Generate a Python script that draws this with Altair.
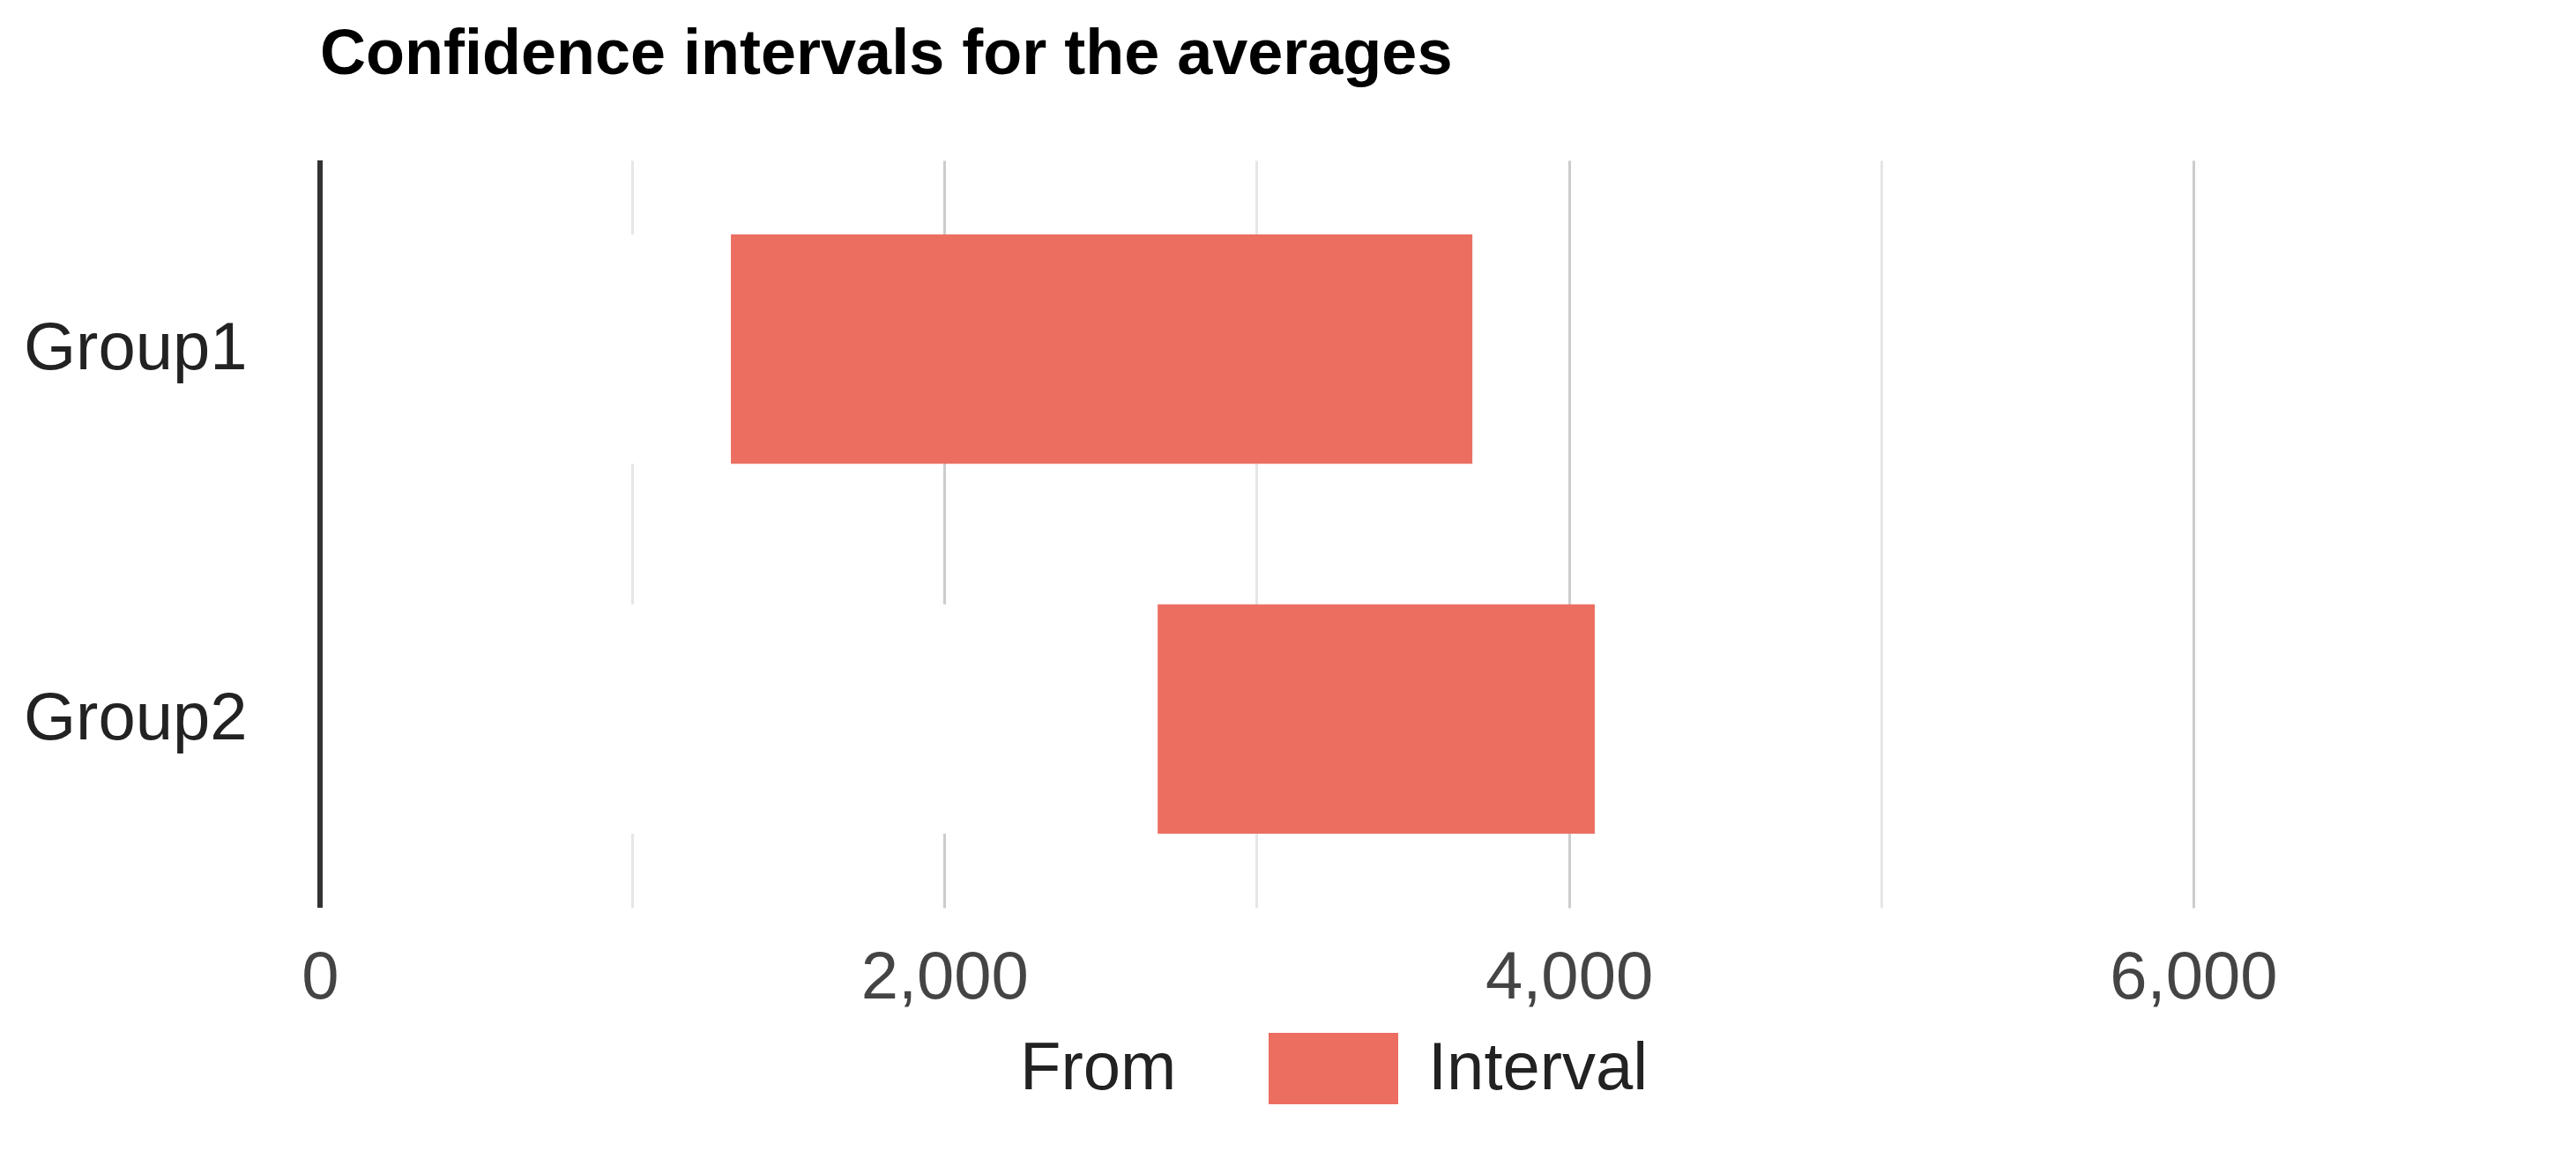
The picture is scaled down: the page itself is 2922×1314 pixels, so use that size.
import altair as alt
import pandas as pd

groups = ["Group1", "Group2"]
from_values = [1316, 2683]
interval_values = [2375, 1400]
series = ["From", "Interval"]
x_ticks = [0, 1000, 2000, 3000, 4000, 5000, 6000]

rows = []
for g, f, i in zip(groups, from_values, interval_values):
    rows.append({"group": g, "series": "From", "value": f, "order": 0})
    rows.append({"group": g, "series": "Interval", "value": i, "order": 1})
df = pd.DataFrame(rows)

FONT = "Liberation Sans, Arial"
FS = 76

bars = alt.Chart(df).mark_bar(stroke=None).encode(
    y=alt.Y("group:N", sort=groups, title=None,
            scale=alt.Scale(paddingInner=0.38, paddingOuter=0.2),
            axis=alt.Axis(domain=False, ticks=False, grid=False, labelPadding=83,
                          labelFontSize=FS, labelFont=FONT, labelColor="#222222", labelLimit=1000)),
    x=alt.X("sum(value):Q", title=None, stack="zero",
            scale=alt.Scale(domain=[0, 7000], nice=False, zero=True),
            axis=alt.Axis(values=x_ticks, domain=False, ticks=False,
                          labelExpr="datum.value % 2000 === 0 ? format(datum.value, ',') : ''",
                          labelFontSize=FS, labelFont=FONT, labelColor="#444444",
                          labelPadding=42, labelFlush=False, labelLimit=1000,
                          gridColor=alt.condition("datum.value % 2000 === 0", alt.value("#cccccc"), alt.value("#e6e6e6")),
                          gridWidth=3)),
    color=alt.Color("series:N", sort=series, title=None,
                    scale=alt.Scale(domain=series, range=["#ffffff", "#ec6e61"]),
                    legend=alt.Legend(orient="none", legendX=646, legendY=990, direction="horizontal",
                                      symbolType="M-1.815,-1H1.815V1H-1.815Z", symbolSize=6561,
                                      symbolStrokeWidth=0, labelOffset=67, columnPadding=103,
                                      labelFontSize=FS, labelFont=FONT, labelColor="#222222",
                                      labelLimit=1000)),
    order=alt.Order("order:Q"),
)

zero_line = alt.Chart(pd.DataFrame({"v": [0]})).mark_rule(color="#333333", strokeWidth=6).encode(
    x=alt.X("v:Q")
)

chart = alt.layer(bars, zero_line).properties(
    width=2479,
    height=848,
    title=alt.TitleParams("Confidence intervals for the averages", anchor="start", frame="group",
                          font="Liberation Sans", fontSize=72, fontWeight="bold", color="#000000",
                          offset=80),
    autosize=alt.AutoSizeParams(type="none"),
    padding={"left": 355, "top": 174, "right": 64, "bottom": 250},
).configure_view(stroke=None)

chart.save("out.html", embed_options={"renderer": "svg", "actions": False})
